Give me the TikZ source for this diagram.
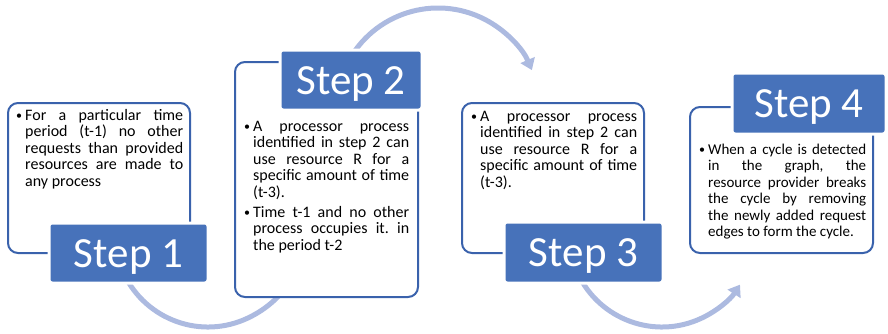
\documentclass[tikz,border=0pt]{standalone}
\usepackage{fontspec}
\setmainfont{Carlito}
\usetikzlibrary{arrows.meta}

\definecolor{stepblue}{RGB}{71,114,186}
\definecolor{frameblue}{RGB}{58,98,172}
\definecolor{flowarc}{RGB}{172,186,224}

% one bullet paragraph with a hanging indent
\newcommand\bulletitem{\par\hangindent=10pt\hangafter=1\noindent
  \makebox[10pt][l]{\hspace{1pt}\fontsize{12}{12}\selectfont\raisebox{0.3pt}{\textbullet}}}
% justified body text of a step, first baseline is the node's base
\newcommand\steptext[3]{\parbox[t]{#1}{\fontsize{#2}{16.5}\selectfont\frenchspacing
  \tolerance=10000 \hbadness=10000 \parskip=0pt #3}}

\tikzset{
  framebox/.style={draw=frameblue, line width=2pt, fill=white, rounded corners=10pt, inner sep=0pt},
  steplabel/.style={draw=white, line width=3pt, fill=stepblue, rounded corners=3pt,
    text=white, font=\fontsize{43}{50}\selectfont, text height=28pt, text depth=0pt,
    inner sep=0pt},
  bodytext/.style={anchor=base west, inner sep=0pt, text=black},
  flow/.style={draw=flowarc, line width=5pt, -{Triangle[width=15pt,length=11pt]}},
}

\begin{document}
\begin{tikzpicture}[x=1pt, y=1pt]
\useasboundingbox (0,0) rectangle (888,333);

% centres of the curved connectors
\coordinate (c1) at (208,99);
\coordinate (c2) at (438,223);
\coordinate (c3) at (662,99);

% curved arrows, drawn first so the boxes cover their ends
\draw[flow] (c1) ++(200:93) arc[start angle=200, end angle=332, radius=93];
\draw[flow] (c2) ++(150:102) arc[start angle=150, end angle=23, radius=102];
\draw[flow] (c3) ++(205:93) arc[start angle=205, end angle=327, radius=93];

% framed text boxes
\node[framebox, minimum width=182pt, minimum height=150pt] (b1) at (99,155) {};
\node[framebox, minimum width=183pt, minimum height=235pt] (b2) at (326.5,153.5) {};
\node[framebox, minimum width=182pt, minimum height=150pt] (b3) at (553,155) {};
\node[framebox, minimum width=183pt, minimum height=146pt] (b4) at (781.5,153) {};

% step titles
\node[steplabel, minimum width=159pt, minimum height=60pt] (s1) at (128.5,80) {Step 1};
\node[steplabel, minimum width=142pt, minimum height=60pt] (s2) at (351,253) {Step 2};
\node[steplabel, minimum width=159pt, minimum height=61pt] (s3) at (583.5,80.5) {Step 3};
\node[steplabel, minimum width=154pt, minimum height=61pt] (s4) at (809,229.5) {Step 4};

% body texts
\node[bodytext] (t1) at (15,213) {\steptext{168pt}{16}{%
  \bulletitem For a particular time\linebreak period (t-1) no other\linebreak
  requests than provided\linebreak resources are made to\linebreak any process}};

\node[bodytext] (t2) at (243,202) {\steptext{166pt}{16}{%
  \bulletitem A processor process\linebreak identified in step 2 can\linebreak
  use resource R for a\linebreak specific amount of time\linebreak (t-3).
  \par\vspace{3.5pt}%
  \bulletitem Time t-1 and no other\linebreak process occupies it. in\linebreak
  the period t-2}};

\node[bodytext] (t3) at (470,212) {\steptext{167pt}{16}{%
  \bulletitem A processor process\linebreak identified in step 2 can\linebreak
  use resource R for a\linebreak specific amount of time\linebreak (t-3).}};

\node[bodytext] (t4) at (698,179) {\steptext{168pt}{15}{%
  \bulletitem When a cycle is detected\linebreak in the graph, the\linebreak
  resource provider breaks\linebreak the cycle by removing\linebreak
  the newly added request\linebreak edges to form the cycle.}};
\end{tikzpicture}
\end{document}
